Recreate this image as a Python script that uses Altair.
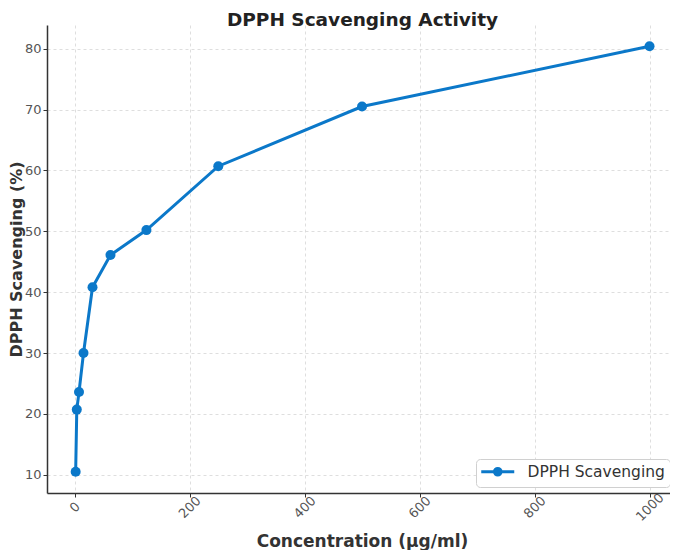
import altair as alt
import pandas as pd

concentration = [1.95, 3.9, 7.8, 15.6, 31.25, 62.5, 125, 250, 500, 1000]
scavenging = [10.5, 20.7, 23.6, 30.0, 40.8, 46.1, 50.2, 60.7, 70.5, 80.4]
series = ["DPPH Scavenging"] * len(concentration)
x_ticks = [0, 200, 400, 600, 800, 1000]
y_ticks = [10, 20, 30, 40, 50, 60, 70, 80]

df = pd.DataFrame({"conc": concentration, "scav": scavenging, "series": series})

BLUE = "#0b78c9"
FONT = "DejaVu Sans"

legend_symbol = ("M -2.75 0 L 2.75 0 "
                 "M 0.55 0 A 0.55 0.55 0 1 1 -0.55 0 A 0.55 0.55 0 1 1 0.55 0 Z")

x_enc = alt.X("conc:Q", scale=alt.Scale(domain=[-47.9, 1035.6], nice=False, zero=False),
              axis=alt.Axis(title="Concentration (µg/ml)", values=x_ticks, format="d",
                            labelAngle=315, labelAlign="center", labelBaseline="middle",
                            labelPadding=10, titleX=315, titleY=53, titleBaseline="alphabetic",
                            titleAnchor="middle", titleAlign="center"))
y_enc = alt.Y("scav:Q", scale=alt.Scale(domain=[7.0, 83.9], nice=False, zero=False),
              axis=alt.Axis(title="DPPH Scavenging (%)", values=y_ticks,
                            titleX=-26, titleY=234, titleBaseline="alphabetic",
                            titleAngle=270, titleAlign="center", titleFontSize=16))
color_enc = alt.Color("series:N", scale=alt.Scale(range=[BLUE]),
                      legend=alt.Legend(title=None, orient="none", legendX=429, legendY=434,
                                        symbolType=legend_symbol, symbolSize=144,
                                        symbolStrokeWidth=3, symbolFillColor=BLUE,
                                        symbolStrokeColor=BLUE, symbolOffset=9,
                                        labelFontSize=15.5, labelFont=FONT,
                                        labelColor="#333333", labelOffset=22,
                                        padding=5, strokeColor="#d0d0d0", fillColor="white",
                                        cornerRadius=4))

line = alt.Chart(df).mark_line(strokeWidth=3, clip=True).encode(x=x_enc, y=y_enc, color=color_enc)
pts = alt.Chart(df).mark_circle(size=100, opacity=1).encode(x=x_enc, y=y_enc, color=color_enc)

chart = (line + pts).properties(
    width=623, height=468,
    title=alt.TitleParams("DPPH Scavenging Activity", font=FONT, fontSize=18.5, fontWeight="bold",
                          color="#222222", anchor="middle", offset=-4, dx=4),
    autosize=alt.AutoSizeParams(type="none"),
    padding={"left": 39, "top": 17, "right": 0, "bottom": 57},
).configure_view(stroke=None).configure_axis(
    labelFont=FONT, titleFont=FONT, labelFontSize=13, titleFontSize=17,
    labelColor="#555555", titleColor="#333333", titleFontWeight="bold",
    domainColor="#333333", domainWidth=1.5, tickColor="#333333", tickSize=4,
    gridColor="#d5d5d5", gridDash=[3, 3], gridWidth=0.8,
)

chart.save("out.html", embed_options={"renderer": "svg", "actions": False})
